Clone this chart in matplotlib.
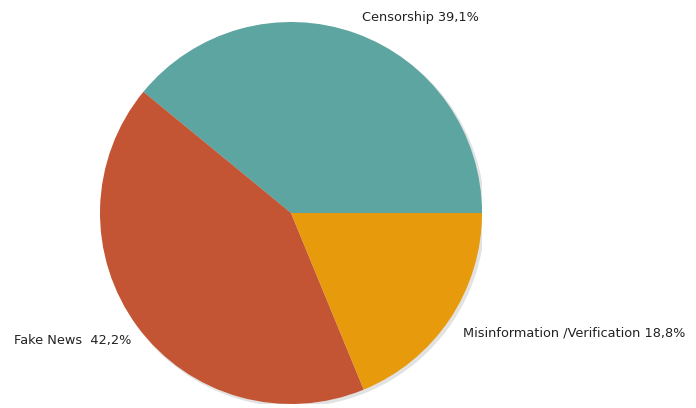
import numpy as np
import matplotlib
matplotlib.use('Agg')
import matplotlib.pyplot as plt

# Slice data
labels = ['Censorship', 'Fake News', 'Misinformation /Verification']
shares = [39.1, 42.2, 18.8]
colors = ['#5ca5a0', '#c45534', '#e69a0c']
label_text = ['Censorship 39,1%', 'Fake News  42,2%', 'Misinformation /Verification 18,8%']

fig = plt.figure(figsize=(6.96, 4.08), dpi=100)
ax = fig.add_axes([100/696, 4/408, 382/696, 382/408])

# soft shadow behind the pie
shadow = plt.Circle((0.012, -0.012), 1.0, color='#e2e2e2', zorder=0)
ax.add_patch(shadow)

wedges, _ = ax.pie(shares, colors=colors, startangle=0, counterclock=True,
                   radius=1.0, wedgeprops=dict(linewidth=0))

# label positions (data coords, relative to pie centre)
pos = [(0.372, 1.026), (-1.45, -0.665), (0.90, -0.628)]
for (x, y), t in zip(pos, label_text):
    ax.text(x, y, t, ha='left', va='center', fontsize=9.3, color='#222222',
            family='DejaVu Sans', clip_on=False)

ax.set_xlim(-1, 1)
ax.set_ylim(-1, 1)
ax.set_aspect('equal')
ax.axis('off')

fig.savefig('out.png', dpi=100)
